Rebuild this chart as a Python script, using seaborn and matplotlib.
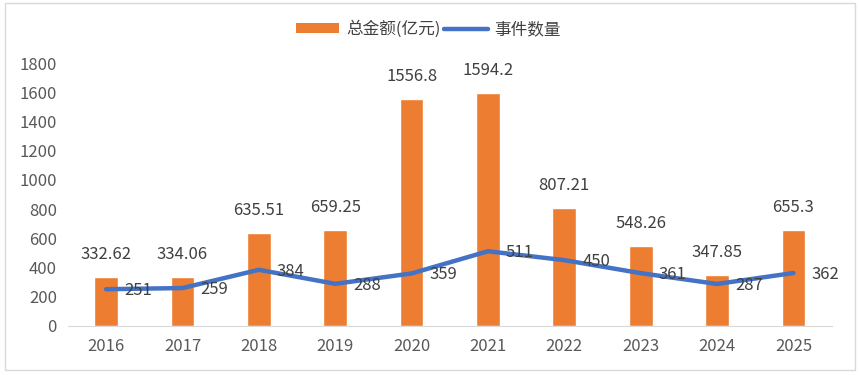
import numpy as np
import matplotlib
matplotlib.use('Agg')
import matplotlib.pyplot as plt
from matplotlib.patches import Patch, Rectangle
from matplotlib.lines import Line2D
import seaborn as sns

# data
years = ['2016', '2017', '2018', '2019', '2020', '2021', '2022', '2023', '2024', '2025']
amount = [332.62, 334.06, 635.51, 659.25, 1556.8, 1594.2, 807.21, 548.26, 347.85, 655.3]
events = [251, 259, 384, 288, 359, 511, 450, 361, 287, 362]
amount_labels = ['332.62', '334.06', '635.51', '659.25', '1556.8', '1594.2', '807.21', '548.26', '347.85', '655.3']

sns.set_style('white')
plt.rcParams['font.family'] = ['Noto Sans CJK SC', 'DejaVu Sans']

bar_color = '#ED7D31'
line_color = '#4472C4'
text_color = '#404040'

fig = plt.figure(figsize=(8.6, 3.75), dpi=100)
ax = fig.add_axes([0.079, 0.131, 0.888, 0.701])

x = np.arange(len(years))
sns.barplot(x=x, y=amount, color=bar_color, width=0.31, saturation=1, ax=ax)
sns.lineplot(x=x, y=events, color=line_color, linewidth=3.2, ax=ax)

for i, (v, lab) in enumerate(zip(amount, amount_labels)):
    ax.annotate(lab, (i, v), xytext=(0, 10), textcoords='offset points',
                ha='center', va='bottom', fontsize=12, color=text_color)
for i, v in enumerate(events):
    ax.annotate(str(v), (i, v), xytext=(13, -1), textcoords='offset points',
                ha='left', va='center', fontsize=12, color=text_color)

ax.set_xlim(-0.5, 9.5)
ax.set_ylim(0, 1800)
ax.set_yticks(range(0, 1801, 200))
ax.set_xticks(x)
ax.set_xticklabels(years)
ax.tick_params(axis='both', length=0, labelsize=12, labelcolor='#595959')
ax.tick_params(axis='y', pad=8)
ax.tick_params(axis='x', pad=9)
ax.set_xlabel('')
ax.set_ylabel('')
for s in ['top', 'right', 'left']:
    ax.spines[s].set_visible(False)
ax.spines['bottom'].set_color('#d9d9d9')

handles = [Patch(facecolor=bar_color, edgecolor='none'),
           Line2D([0], [0], color=line_color, linewidth=3.2)]
fig.legend(handles, ['总金额(亿元)', '事件数量'], loc='center', bbox_to_anchor=(0.498, 0.922),
           ncol=2, frameon=False, fontsize=12, handlelength=2.6, handleheight=0.5,
           columnspacing=0.25, handletextpad=0.4, labelcolor=text_color)

fig.patches.append(Rectangle((0.006, 0.013), 0.988, 0.98, transform=fig.transFigure,
                             fill=False, edgecolor='#d9d9d9', linewidth=1))

plt.savefig('out.png', dpi=100)
